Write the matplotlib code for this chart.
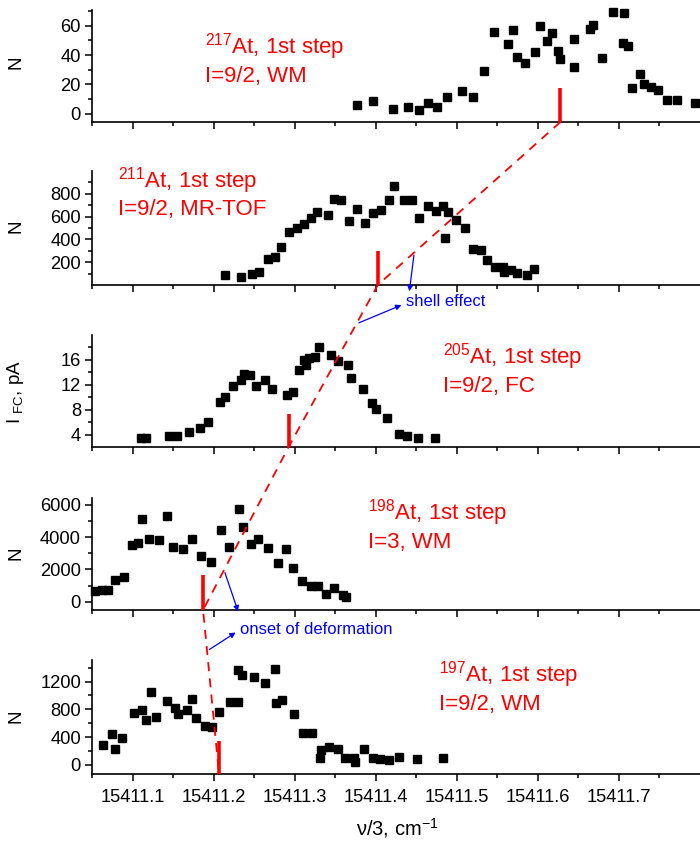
import matplotlib
matplotlib.use("Agg")
import matplotlib.pyplot as plt
from matplotlib.lines import Line2D
from matplotlib.patches import FancyArrowPatch
from matplotlib.ticker import FixedLocator

plt.rcParams['font.family'] = ['Liberation Sans', 'DejaVu Sans']
plt.rcParams['mathtext.fontset'] = 'custom'
plt.rcParams['mathtext.rm'] = 'Liberation Sans'
plt.rcParams['mathtext.default'] = 'regular'

# ---------------- data ----------------
x217 = [15411.3766, 15411.3963, 15411.4218, 15411.440, 15411.453, 15411.4645, 15411.476,
        15411.4874, 15411.507, 15411.520, 15411.5335, 15411.5453, 15411.5626, 15411.5696,
        15411.574, 15411.5844, 15411.5963, 15411.6028, 15411.611, 15411.6172, 15411.6254,
        15411.6275, 15411.6443, 15411.6443, 15411.6648, 15411.668, 15411.6796, 15411.6927,
        15411.7063, 15411.7054, 15411.7116, 15411.7158, 15411.7264, 15411.7313, 15411.7395,
        15411.7478, 15411.7592, 15411.7712, 15411.7937]
n217 = [6.1, 8.5, 3.4, 4.4, 2.5, 7.1, 4.4, 11.2, 15.3, 11.2, 28.9, 56, 47.8, 56.9, 38.9, 34.4,
        41.9, 60.1, 49.8, 54.9, 43, 37.1, 51, 32.1, 57.8, 60.8, 38.2, 69.6, 68.9, 48, 46.2,
        17.3, 27.1, 20.1, 18, 16.2, 9.4, 9.4, 7.1]

x211 = [15411.2137, 15411.2337, 15411.2473, 15411.2559, 15411.2666, 15411.2761, 15411.2826,
        15411.2925, 15411.3023, 15411.3118, 15411.320, 15411.3273, 15411.3414, 15411.3487,
        15411.3569, 15411.3676, 15411.3766, 15411.3869, 15411.3968, 15411.4066, 15411.416,
        15411.423, 15411.4345, 15411.4448, 15411.4534, 15411.4645, 15411.4744, 15411.4834,
        15411.4892, 15411.485, 15411.4985, 15411.5101, 15411.5203, 15411.5293, 15411.5367,
        15411.5466, 15411.5573, 15411.5581, 15411.5663, 15411.5745, 15411.586, 15411.5951]
n211 = [84, 69, 99, 111, 227, 242, 334, 465, 504, 539, 590, 638, 617, 754, 745, 563, 667, 542,
        631, 655, 742, 867, 742, 747, 590, 697, 649, 694, 644, 412, 572, 504, 313, 310, 215,
        155, 155, 113, 135, 102, 90, 144]

x205 = [15411.1099, 15411.1172, 15411.1451, 15411.1554, 15411.1697, 15411.1837, 15411.1927,
        15411.2075, 15411.214, 15411.2239, 15411.2342, 15411.2374, 15411.2453, 15411.2527,
        15411.2638, 15411.2724, 15411.2904, 15411.2978, 15411.3052, 15411.3134, 15411.311,
        15411.3175, 15411.3245, 15411.3303, 15411.3446, 15411.3537, 15411.3655, 15411.370,
        15411.384, 15411.3956, 15411.4009, 15411.4144, 15411.4288, 15411.4387, 15411.4517,
        15411.4727]
i205 = [3.46, 3.46, 3.84, 3.84, 4.48, 5.06, 6.02, 9.22, 10.08, 11.78, 12.74, 13.7, 13.6, 11.84,
        12.8, 11.36, 10.34, 10.77, 14.4, 15.14, 16.05, 16.3, 16.5, 18.1, 16.85, 15.8, 15.2,
        13.1, 11.3, 9.06, 8.05, 6.6, 4.05, 3.84, 3.52, 3.52]

x198 = [15411.0536, 15411.0622, 15411.0696, 15411.0786, 15411.0889, 15411.0991, 15411.1065,
        15411.1118, 15411.1204, 15411.1324, 15411.1422, 15411.1505, 15411.1623, 15411.173,
        15411.1841, 15411.1964, 15411.2087, 15411.2195, 15411.2313, 15411.2367, 15411.2461,
        15411.2547, 15411.267, 15411.2793, 15411.2892, 15411.2974, 15411.3094, 15411.3204,
        15411.3282, 15411.3389, 15411.3491, 15411.3594, 15411.3635]
n198 = [646, 745, 745, 1329, 1534, 3540, 3645, 5136, 3912, 3850, 5341, 3378, 3273, 3912, 2838,
        2465, 4471, 3378, 5775, 4658, 3602, 3875, 3316, 2385, 3254, 2111, 1304, 994, 956, 497,
        832, 397, 273]

x197 = [15411.0638, 15411.0749, 15411.0782, 15411.0872, 15411.1016, 15411.1115, 15411.1167,
        15411.1222, 15411.1287, 15411.1431, 15411.153, 15411.1567, 15411.1672, 15411.1739,
        15411.178, 15411.189, 15411.1985, 15411.2071, 15411.2198, 15411.2305, 15411.2297,
        15411.2346, 15411.2502, 15411.2629, 15411.2761, 15411.2768, 15411.2839, 15411.2986,
        15411.3106, 15411.3217, 15411.3323, 15411.3315, 15411.3426, 15411.3537, 15411.3623,
        15411.3734, 15411.3746, 15411.3852, 15411.3968, 15411.4054, 15411.416, 15411.4283,
        15411.4505, 15411.4825]
n197 = [287, 439, 224, 381, 750, 797, 654, 1047, 688, 918, 822, 736, 797, 946, 674, 564, 545,
        764, 903, 903, 1371, 1295, 1271, 1185, 1385, 898, 932, 731, 459, 459, 209, 100, 258,
        234, 100, 100, 37, 234, 100, 90, 76, 109, 80, 95]

# centre-of-gravity markers (red bars) and their heights
bar_pos = [15411.6278, 15411.4025, 15411.2925, 15411.187, 15411.2067]
bar_top = [17.7, 298, 7.25, 1658, 338]

isotopes = ['217', '211', '205', '198', '197']
spins = ['I=9/2, WM', 'I=9/2, MR-TOF', 'I=9/2, FC', 'I=3, WM', 'I=9/2, WM']
ylabels = ['N', 'N', r'I $_{FC}$, pA', 'N', 'N']
xticks = [15411.1, 15411.2, 15411.3, 15411.4, 15411.5, 15411.6, 15411.7]
xtick_labels = ['15411.1', '15411.2', '15411.3', '15411.4', '15411.5', '15411.6', '15411.7']

series_x = [x217, x211, x205, x198, x197]
series_y = [n217, n211, i205, n198, n197]
ylims = [(-5.7, 70.7), (0, 1000), (2, 20), (-520, 6430), (-130, 1510)]
ymajor = [[0, 20, 40, 60], [200, 400, 600, 800], [4, 8, 12, 16], [0, 2000, 4000, 6000],
          [0, 400, 800, 1200]]
yminor = [[10, 30, 50, 70], [100, 300, 500, 700, 900], [6, 10, 14, 18], [1000, 3000, 5000],
          [200, 600, 1000, 1400]]

# ---------------- figure ----------------
W, H = 700, 842
fig = plt.figure(figsize=(W / 100, H / 100), dpi=100)

# panel extents in pixels (top, bottom)
panels_px = [(10, 122), (171, 285), (335, 447), (498, 610), (660, 774)]
left_px, right_px = 92, 700

red = '#FF0000'
blue = '#0000FF'
axes = []
for i, (top, bot) in enumerate(panels_px):
    ax = fig.add_axes([left_px / W, 1 - bot / H, (right_px - left_px) / W, (bot - top) / H])
    ax.plot(series_x[i], series_y[i], 's', color='black', ms=5.3, mec='black', zorder=3,
            clip_on=False)
    ax.vlines(bar_pos[i], ylims[i][0], bar_top[i], color=red, lw=2.6, zorder=4)
    ax.set_xlim(15411.05, 15411.80)
    ax.set_ylim(*ylims[i])
    for s in ['top', 'right']:
        ax.spines[s].set_visible(False)
    for s in ['left', 'bottom']:
        ax.spines[s].set_linewidth(1.2)
    ax.set_xticks(xticks)
    ax.xaxis.set_minor_locator(FixedLocator([15411.05 + 0.1 * k for k in range(8)]))
    ax.set_yticks(ymajor[i])
    ax.yaxis.set_minor_locator(FixedLocator(yminor[i]))
    ax.tick_params(axis='both', which='major', direction='out', length=5, width=1.1,
                   labelsize=13.2, pad=3)
    ax.tick_params(axis='both', which='minor', direction='out', length=3, width=1.1)
    if i < 4:
        ax.set_xticklabels([])
    else:
        ax.set_xticklabels(xtick_labels)
        ax.tick_params(axis='x', which='major', pad=6)
    ax.patch.set_alpha(0)
    axes.append(ax)

# y labels
ylabel_y = [62, 226, 392, 553, 716]
for i, lab in enumerate(ylabels):
    fig.text(16 / W, 1 - ylabel_y[i] / H, lab, rotation=90, ha='center', va='center',
             fontsize=13.5)

fig.text(397 / W, 1 - 828 / H, 'ν/3, cm$^{-1}$', ha='center', va='center', fontsize=14.5)

# red isotope labels (left x, baseline of line 1, baseline of line 2) in pixels
label_px = [(205, 53, 82), (118, 187, 215), (443, 363, 392), (368, 519, 548), (439, 681, 710)]
for i, (lx, b1, b2) in enumerate(label_px):
    fig.text(lx / W, 1 - b1 / H, '$^{' + isotopes[i] + '}$At, 1st step', color=red,
             fontsize=16, ha='left', va='baseline')
    fig.text(lx / W, 1 - b2 / H, spins[i], color=red, fontsize=16, ha='left',
             va='baseline')

# dashed line joining the bar positions (at each panel's baseline)
inv = fig.transFigure.inverted()
pts = []
for i, ax in enumerate(axes):
    pts.append(inv.transform(ax.transData.transform((bar_pos[i], ylims[i][0]))))
xs = [p[0] for p in pts]
ys = [p[1] for p in pts]
fig.add_artist(Line2D(xs, ys, transform=fig.transFigure, color=red, lw=1.3,
                      ls=(0, (5, 4)), zorder=10))


def along(k, t):
    return (pts[k][0] + t * (pts[k + 1][0] - pts[k][0]),
            pts[k][1] + t * (pts[k + 1][1] - pts[k][1]))


def px(x, y):
    return (x / W, 1 - y / H)


arrow_kw = dict(arrowstyle='-|>', color=blue, lw=0.9, mutation_scale=8)

# shell effect
fig.text(*px(406, 302), 'shell effect', color=blue, fontsize=12, ha='left', va='center')
fig.add_artist(FancyArrowPatch(along(0, 0.80), px(409, 294),
               transform=fig.transFigure, **arrow_kw))
fig.add_artist(FancyArrowPatch(along(1, 0.24), px(404, 304),
               transform=fig.transFigure, **arrow_kw))

# onset of deformation
fig.text(*px(240, 629), 'onset of deformation', color=blue, fontsize=12, ha='left',
         va='center')
fig.add_artist(FancyArrowPatch(along(2, 0.755), px(239, 614),
               transform=fig.transFigure, **arrow_kw))
fig.add_artist(FancyArrowPatch(along(3, 0.25), px(238, 631),
               transform=fig.transFigure, **arrow_kw))

fig.savefig('out.png', dpi=100)
